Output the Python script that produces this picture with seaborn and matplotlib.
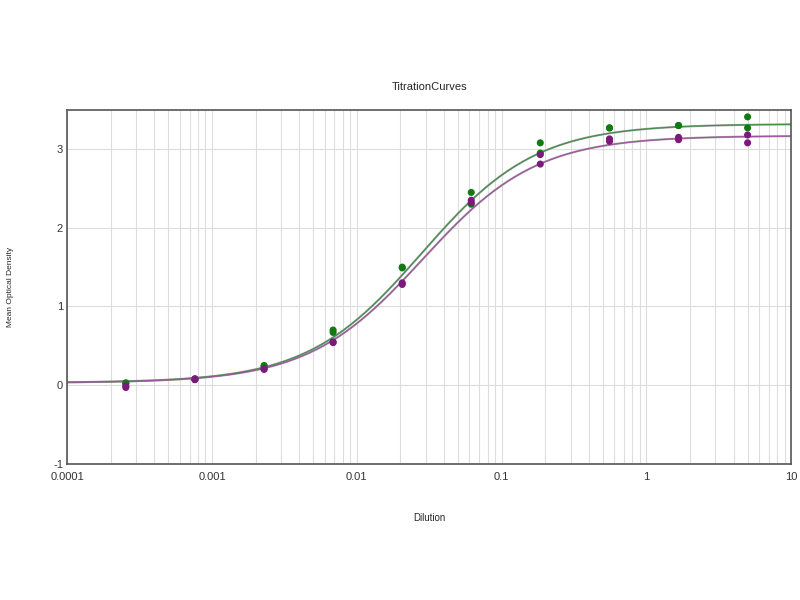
import numpy as np
import pandas as pd
import seaborn as sns
import matplotlib.pyplot as plt
from matplotlib.ticker import FixedLocator, LogLocator, NullFormatter

# dilutions (3-fold series) and measured optical densities, two replicates each
dilution = [0.000254, 0.000762, 0.00229, 0.00686, 0.0206, 0.0617, 0.185, 0.556, 1.667, 5.0]
green_rep1 = [0.03, 0.08, 0.25, 0.70, 1.50, 2.45, 3.08, 3.27, 3.30, 3.41]
green_rep2 = [0.02, 0.07, 0.24, 0.67, 1.49, 2.30, 2.95, 3.27, 3.30, 3.27]
purple_rep1 = [-0.01, 0.08, 0.21, 0.55, 1.30, 2.35, 2.93, 3.13, 3.15, 3.18]
purple_rep2 = [-0.03, 0.07, 0.20, 0.54, 1.28, 2.32, 2.81, 3.10, 3.12, 3.08]

# 4-parameter logistic fit parameters (bottom, top, ec50, hill)
green_fit = [0.03, 3.32, 0.028, 1.1]
purple_fit = [0.03, 3.17, 0.0285, 1.1]

colors = {'green': '#137a13', 'purple': '#7a1a7a'}
line_colors = {'green': '#3f8f4a', 'purple': '#a050a0'}

sns.set_style('white')
plt.rcParams['font.family'] = ['Liberation Sans', 'DejaVu Sans']

pts = pd.concat([
    pd.DataFrame({'Dilution': dilution, 'OD': green_rep1, 'sample': 'green'}),
    pd.DataFrame({'Dilution': dilution, 'OD': green_rep2, 'sample': 'green'}),
    pd.DataFrame({'Dilution': dilution, 'OD': purple_rep1, 'sample': 'purple'}),
    pd.DataFrame({'Dilution': dilution, 'OD': purple_rep2, 'sample': 'purple'}),
])


def four_pl(x, p):
    bottom, top, ec50, hill = p
    return bottom + (top - bottom) / (1 + (ec50 / x) ** hill)


xs = np.logspace(-4, 1, 300)
curves = pd.concat([
    pd.DataFrame({'Dilution': xs, 'OD': four_pl(xs, green_fit), 'sample': 'green'}),
    pd.DataFrame({'Dilution': xs, 'OD': four_pl(xs, purple_fit), 'sample': 'purple'}),
])

fig = plt.figure(figsize=(8, 6), dpi=100)
ax = fig.add_axes([0.084, 0.227, 0.905, 0.59])

# thin grey halo under curves, like the original
sns.lineplot(data=curves, x='Dilution', y='OD', units='sample', estimator=None,
             color='#a0a0a0', lw=1.5, ax=ax, legend=False)
sns.lineplot(data=curves, x='Dilution', y='OD', hue='sample', palette=line_colors,
             lw=0.8, ax=ax, legend=False)
sns.scatterplot(data=pts, x='Dilution', y='OD', hue='sample', palette=colors,
                s=26, edgecolor='none', ax=ax, legend=False, zorder=5)

ax.set_xscale('log')
ax.set_xlim(0.0001, 10)
ax.set_ylim(-1, 3.5)
ax.xaxis.set_major_locator(FixedLocator([0.0001, 0.001, 0.01, 0.1, 1, 10]))
ax.set_xticklabels(['0.0001', '0.001', '0.01', '0.1', '1', '10'])
ax.xaxis.set_minor_locator(LogLocator(base=10, subs=np.arange(2, 10)))
ax.xaxis.set_minor_formatter(NullFormatter())
ax.set_yticks([-1, 0, 1, 2, 3])
ax.set_yticklabels(['-1', '0', '1', '2', '3'])

ax.grid(True, which='major', axis='y', color='#dddddd', lw=0.8)
ax.grid(True, which='both', axis='x', color='#dddddd', lw=0.8)
ax.tick_params(axis='both', which='both', length=2, labelsize=8, colors='#333333')
ax.tick_params(axis='x', pad=4)
ax.tick_params(axis='y', pad=1)

for s in ax.spines.values():
    s.set_color('#555555')
    s.set_linewidth(1.2)

ax.set_title('TitrationCurves', fontsize=8, pad=14)
ax.set_xlabel('Dilution', fontsize=7, labelpad=22)
ax.set_ylabel('Mean Optical Density', fontsize=6)
ax.yaxis.set_label_coords(-0.074, 0.5)

plt.savefig('out.png', dpi=100)
